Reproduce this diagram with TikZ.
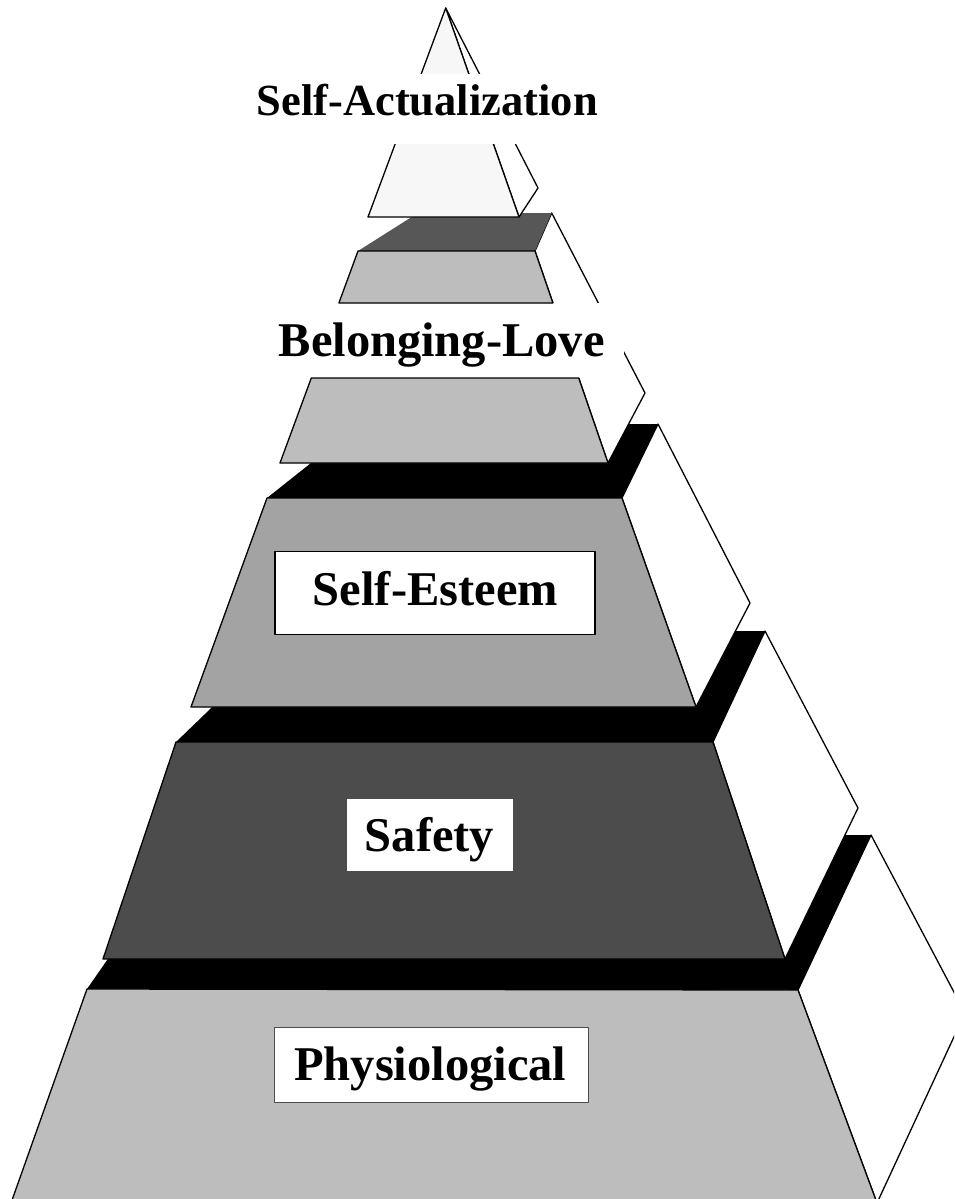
\documentclass[tikz,border=0pt]{standalone}
\usepackage{fontspec}
\setmainfont{Liberation Serif}
\definecolor{lightface}{gray}{0.74}
\definecolor{midface}{gray}{0.64}
\definecolor{darkface}{gray}{0.30}
\definecolor{darktop}{gray}{0.34}
\definecolor{apexface}{gray}{0.97}
\begin{document}
\begin{tikzpicture}[x=1pt,y=-1pt,line join=round,
  edge/.style={draw=black,line width=1.3pt},
  sideface/.style={edge,fill=white},
  blacktop/.style={fill=black},
  lbl/.style={font=\fontsize{48.5}{56}\selectfont\bfseries,inner sep=0pt,anchor=base},
  smalllbl/.style={font=\fontsize{44.5}{52}\selectfont\bfseries,inner sep=0pt,anchor=base},
  band/.style={fill=white,inner sep=0pt,rectangle},
  labelbox/.style={fill=white,inner sep=0pt,rectangle}]
\useasboundingbox (0,0) rectangle (954,1199);
\clip (0,0) rectangle (954,1199);

% ---------- Physiological ----------
\coordinate (pFL) at (87,989);
\coordinate (pFR) at (798,990);
\coordinate (pBR) at (871,835);
\coordinate (pBL) at (194,835);
\coordinate (pRV) at (965,1013);
\coordinate (pBotR) at (877,1203);
\coordinate (pBotL) at (11,1203);
\draw[sideface] (pFR) -- (pBR) -- (pRV) -- (pBotR) -- cycle;
\fill[blacktop] (pFL) -- (pBL) -- (pBR) -- (pFR) -- cycle;
\draw[edge,fill=lightface] (pFL) -- (pFR) -- (pBotR) -- (pBotL) -- cycle;

% ---------- Safety ----------
\coordinate (sFL) at (176,742);
\coordinate (sFR) at (713,742);
\coordinate (sBR) at (765,631);
\coordinate (sBL) at (291,631);
\coordinate (sRV) at (858,808);
\coordinate (sBotR) at (785,959);
\coordinate (sBotL) at (103,959);
\draw[sideface] (sFR) -- (sBR) -- (sRV) -- (sBotR) -- cycle;
\fill[blacktop] (sFL) -- (sBL) -- (sBR) -- (sFR) -- cycle;
\draw[edge,fill=darkface] (sFL) -- (sFR) -- (sBotR) -- (sBotL) -- cycle;

% ---------- Self-Esteem ----------
\coordinate (eFL) at (267,498);
\coordinate (eFR) at (622,498);
\coordinate (eBR) at (658,424);
\coordinate (eBL) at (360,424);
\coordinate (eRV) at (750,603);
\coordinate (eBotR) at (696,707);
\coordinate (eBotL) at (191,707);
\draw[sideface] (eFR) -- (eBR) -- (eRV) -- (eBotR) -- cycle;
\fill[blacktop] (eFL) -- (eBL) -- (eBR) -- (eFR) -- cycle;
\draw[edge,fill=midface] (eFL) -- (eFR) -- (eBotR) -- (eBotL) -- cycle;

% ---------- Belonging-Love ----------
\coordinate (bFL) at (358,251);
\coordinate (bFR) at (535,251);
\coordinate (bBR) at (551.7,213);
\coordinate (bBL) at (418,213);
\coordinate (bRV) at (645,393);
\coordinate (bBotR) at (608,463);
\coordinate (bBotL) at (280,463);
\coordinate (bCutUL) at (338.9,303);
\coordinate (bCutUR) at (552.9,303);
\coordinate (bCutLL) at (311.3,378);
\coordinate (bCutLR) at (578.7,378);
\draw[sideface] (bFR) -- (bBR) -- (bRV) -- (bBotR) -- cycle;
\fill[darktop] (bFL) -- (bBL) -- (bBR) -- (bFR) -- cycle;
\node[band,minimum width=364pt,minimum height=75pt] (bband) at (442,340.5) {};
\draw[edge,fill=lightface] (bFL) -- (bFR) -- (bCutUR) -- (bCutUL) -- cycle;
\draw[edge,fill=lightface] (bCutLL) -- (bCutLR) -- (bBotR) -- (bBotL) -- cycle;
\node[lbl] (belong) at (441.7,356.7) {Belonging-Love};

% ---------- Self-Actualization ----------
\coordinate (aApex) at (445.7,8);
\coordinate (aBotL) at (368,217);
\coordinate (aBotR) at (519,217);
\coordinate (aRV) at (538,188);
\draw[sideface] (aApex) -- (aRV) -- (aBotR) -- cycle;
\draw[edge,fill=apexface] (aApex) -- (aBotR) -- (aBotL) -- cycle;
\node[band,minimum width=380pt,minimum height=70pt] (aband) at (430,109) {};
\node[smalllbl] (selfact) at (427.3,115) {Self-Actualization};

% ---------- label boxes ----------
\node[labelbox,draw=black,line width=1.3pt,minimum width=320pt,minimum height=83pt] (ebox) at (435,593.3) {};
\node[lbl] (esteem) at (435.5,605) {Self-Esteem};
\node[labelbox,minimum width=166.6pt,minimum height=71.4pt] (sbox) at (430,835) {};
\node[lbl] (safety) at (429.5,851.7) {Safety};
\node[labelbox,draw=black!70,line width=0.8pt,minimum width=314.3pt,minimum height=75.4pt] (pbox) at (431.2,1065) {};
\node[lbl] (physio) at (430.3,1080) {Physiological};
\end{tikzpicture}
\end{document}
